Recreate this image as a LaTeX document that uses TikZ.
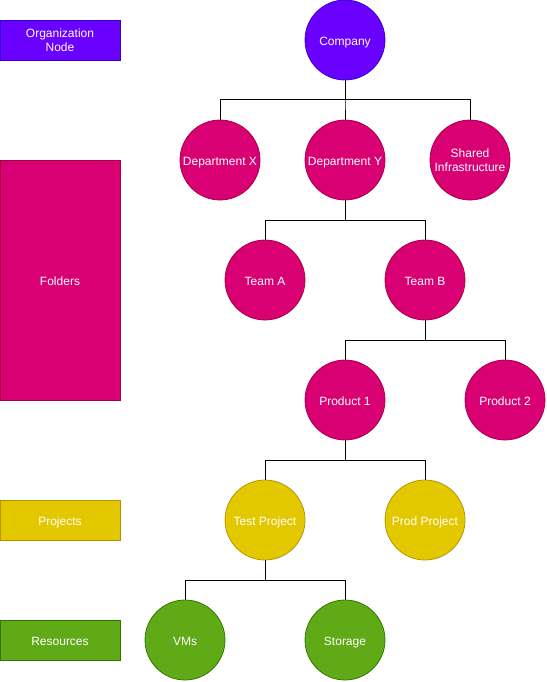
\documentclass[tikz,border=0pt]{standalone}
\usepackage{fontspec}
\setmainfont{Liberation Sans}
\begin{document}
\begin{tikzpicture}[x=1pt,y=-1pt,
  every node/.style={inner sep=0pt, font=\fontsize{12}{14}\selectfont, text=white, align=center},
  oneline/.style={text height=10.6pt, text depth=0pt},
  orgfill/.style={fill=orgc, draw=orgs},
  foldfill/.style={fill=foldc, draw=folds},
  projfill/.style={fill=projc, draw=projs},
  resfill/.style={fill=resc, draw=ress},
  unit/.style={circle, minimum size=80pt, line width=0.75pt},
  legend/.style={rectangle, minimum width=120pt, line width=0.75pt},
  link/.style={draw=black, line width=1pt}]
\definecolor{orgc}{HTML}{6A00FF}\definecolor{orgs}{HTML}{3700CC}
\definecolor{foldc}{HTML}{D80073}\definecolor{folds}{HTML}{A50040}
\definecolor{projc}{HTML}{E3C800}\definecolor{projs}{HTML}{B09500}
\definecolor{resc}{HTML}{60A917}\definecolor{ress}{HTML}{2D7600}
\useasboundingbox (0,0) rectangle (546,682);

% legend column
\node[legend, orgfill, minimum height=40pt] (lorg) at (60,40) {Organization\\Node};
\node[legend, foldfill, minimum height=240pt, oneline] (lfold) at (60,280) {Folders};
\node[legend, projfill, minimum height=40pt, oneline] (lproj) at (60,520) {Projects};
\node[legend, resfill, minimum height=40pt, oneline] (lres) at (60,640) {Resources};

% hierarchy
\node[unit, orgfill, oneline] (company) at (345,40) {Company};
\node[unit, foldfill, oneline] (dx) at (220,160) {Department X};
\node[unit, foldfill, oneline] (dy) at (345,160) {Department Y};
\node[unit, foldfill] (shared) at (470,160) {Shared\\Infrastructure};
\node[unit, foldfill, oneline] (ta) at (265,280) {Team A};
\node[unit, foldfill, oneline] (tb) at (425,280) {Team B};
\node[unit, foldfill, oneline] (p1) at (345,400) {Product 1};
\node[unit, foldfill, oneline] (p2) at (505,400) {Product 2};
\node[unit, projfill, oneline] (test) at (265,520) {Test Project};
\node[unit, projfill, oneline] (prod) at (425,520) {Prod Project};
\node[unit, resfill, oneline] (vms) at (185,640) {VMs};
\node[unit, resfill, oneline] (storage) at (345,640) {Storage};

% orthogonal tree links
\foreach \p/\c/\y in {company/dx/100, company/dy/100, company/shared/100,
                      dy/ta/220, dy/tb/220,
                      tb/p1/340, tb/p2/340,
                      p1/test/460, p1/prod/460,
                      test/vms/580, test/storage/580}
  \draw[link] (\p.south) -- (\p.south |- 0,\y) -| (\c.north);
\end{tikzpicture}
\end{document}
